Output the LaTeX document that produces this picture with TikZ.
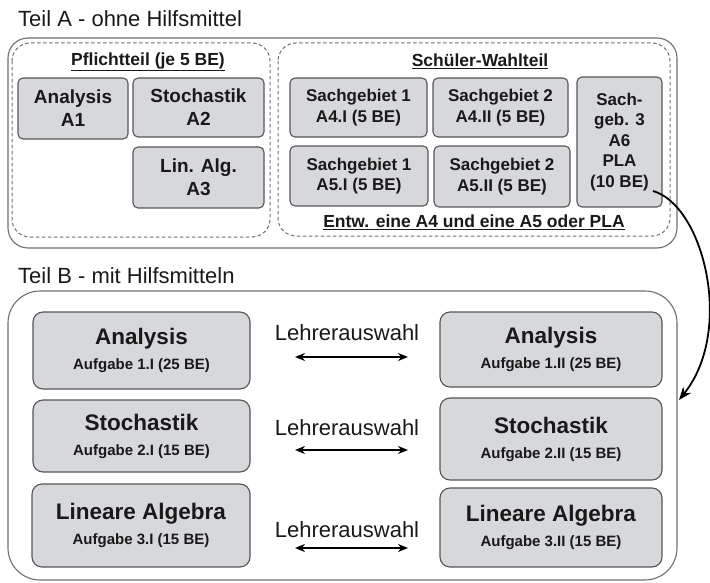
\documentclass[tikz,border=0pt]{standalone}
\usepackage{fontspec}
\setmainfont{Liberation Sans}
\usetikzlibrary{arrows.meta}
\definecolor{boxfill}{RGB}{214,216,219}
\definecolor{boxline}{RGB}{85,85,85}
\definecolor{outerline}{RGB}{110,110,110}
\definecolor{txt}{RGB}{25,25,25}
\tikzset{
  abox/.style={draw=boxline, fill=boxfill, line width=1.1pt, rounded corners=5pt, align=center, inner sep=0pt, text=txt, font=\bfseries\fontsize{17}{20.5}\selectfont},
  bbox/.style={draw=boxline, fill=boxfill, line width=1.1pt, rounded corners=10pt, align=center, inner sep=0pt, text=txt, font=\bfseries\fontsize{22.5}{25}\selectfont},
  outerbox/.style={draw=outerline, line width=1.1pt},
  dashbox/.style={draw=outerline, line width=1pt, dash pattern=on 3.5pt off 2.5pt},
  heading/.style={font=\fontsize{22}{26}\selectfont, text=txt, inner sep=0pt},
  sub/.style={font=\bfseries\fontsize{17.5}{21}\selectfont, text=txt, inner sep=0pt},
  choice/.style={line width=2.2pt, {Stealth[length=10pt,width=8pt]}-{Stealth[length=10pt,width=8pt]}},
}
\newcommand{\smallline}[1]{{\fontsize{15}{18}\selectfont #1}}
\begin{document}
\begin{tikzpicture}[x=1pt,y=-1pt]
\useasboundingbox (0,0) rectangle (710,583);
% Teil A
\node[heading, anchor=base west] (ta) at (18,27) {Teil A - ohne Hilfsmittel};
\draw[outerbox, rounded corners=20pt] (8,38) rectangle (677,248);
\draw[dashbox, rounded corners=18pt] (12,43) rectangle (270,237);
\draw[dashbox, rounded corners=18pt] (278,43) rectangle (670,236);
\node[sub] (pf) at (148,62) {\underline{Pflichtteil (je 5 BE)}};
\node[sub] (sw) at (480,61) {\underline{Schüler-Wahlteil}};
\node[sub] (en) at (474,222) {\underline{Entw. eine A4 und eine A5 oder PLA}};
\node[abox, minimum width=110pt, minimum height=61pt, font=\bfseries\fontsize{19}{23}\selectfont] (a1) at (73,108.5) {Analysis\\A1};
\node[abox, minimum width=131pt, minimum height=59pt, font=\bfseries\fontsize{19}{23}\selectfont] (a2) at (198.5,107.5) {Stochastik\\A2};
\node[abox, minimum width=131pt, minimum height=61pt, font=\bfseries\fontsize{19}{23}\selectfont] (a3) at (198.5,177.5) {Lin. Alg.\\A3};
\node[abox, minimum width=137pt, minimum height=59pt] (a4i) at (358.5,107.5) {Sachgebiet 1\\A4.I (5 BE)};
\node[abox, minimum width=135pt, minimum height=59pt] (a4ii) at (500.5,107.5) {Sachgebiet 2\\A4.II (5 BE)};
\node[abox, minimum width=138pt, minimum height=60pt] (a5i) at (359,176) {Sachgebiet 1\\A5.I (5 BE)};
\node[abox, minimum width=136pt, minimum height=61pt] (a5ii) at (502,176.5) {Sachgebiet 2\\A5.II (5 BE)};
\node[abox, minimum width=85pt, minimum height=130pt] (a6) at (619.5,142) {Sach-\\geb. 3\\A6\\PLA\\(10 BE)};
% Teil B
\node[heading, anchor=base west] (tb) at (18,283) {Teil B - mit Hilfsmitteln};
\draw[outerbox, rounded corners=32pt] (8,291) rectangle (677,580);
\node[bbox, minimum width=217pt, minimum height=77pt] (la) at (141.5,350.5) {Analysis\\\smallline{Aufgabe 1.I (25 BE)}};
\node[bbox, minimum width=217pt, minimum height=72pt] (ls) at (141.5,436) {Stochastik\\\smallline{Aufgabe 2.I (15 BE)}};
\node[bbox, minimum width=218pt, minimum height=83pt] (ll) at (141,525.5) {Lineare Algebra\\\smallline{Aufgabe 3.I (15 BE)}};
\node[bbox, minimum width=222pt, minimum height=75pt] (ra) at (551,349.5) {Analysis\\\smallline{Aufgabe 1.II (25 BE)}};
\node[bbox, minimum width=222pt, minimum height=82pt] (rs) at (551,439) {Stochastik\\\smallline{Aufgabe 2.II (15 BE)}};
\node[bbox, minimum width=222pt, minimum height=79pt] (rl) at (551,527.5) {Lineare Algebra\\\smallline{Aufgabe 3.II (15 BE)}};
\node[heading] (l1) at (347,333) {Lehrerauswahl};
\node[heading] (l2) at (347,428) {Lehrerauswahl};
\node[heading] (l3) at (347,530) {Lehrerauswahl};
\coordinate (p1a) at (295,357); \coordinate (p1b) at (408,357);
\coordinate (p2a) at (295,450); \coordinate (p2b) at (408,450);
\coordinate (p3a) at (295,548); \coordinate (p3b) at (408,548);
\draw[choice] (p1a) -- (p1b);
\draw[choice] (p2a) -- (p2b);
\draw[choice] (p3a) -- (p3b);
% curved arrow
\coordinate (cs) at (653,191);
\coordinate (ce) at (679,400);
\draw[line width=1.8pt, -{Stealth[length=13pt,width=10pt]}] (cs) .. controls (703,205) and (735,330) .. (ce);
\end{tikzpicture}
\end{document}
